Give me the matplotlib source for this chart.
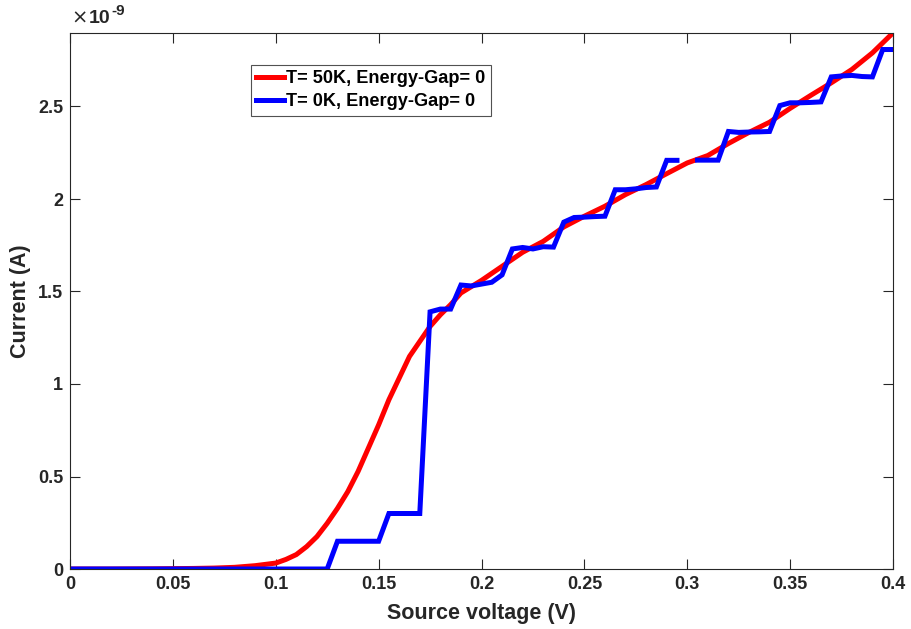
import numpy as np
import matplotlib
matplotlib.use("Agg")
import matplotlib.pyplot as plt
from matplotlib.ticker import FuncFormatter, MultipleLocator

# ---- data (current in units of 1e-9 A) ----
v_red = [0.00, 0.01, 0.02, 0.03, 0.04, 0.05, 0.06, 0.07, 0.08, 0.09,
         0.10, 0.105, 0.11, 0.115, 0.12, 0.125, 0.13, 0.135, 0.14, 0.145,
         0.15, 0.155, 0.16, 0.165, 0.17, 0.175, 0.18, 0.185, 0.19, 0.20,
         0.21, 0.22, 0.23, 0.24, 0.25, 0.26, 0.27, 0.28, 0.29, 0.30,
         0.31, 0.32, 0.33, 0.34, 0.35, 0.36, 0.37, 0.38, 0.39, 0.40]
i_red = [0.0, 0.0, 0.0, 0.0005, 0.001, 0.002, 0.003, 0.005, 0.009, 0.018,
         0.032, 0.052, 0.078, 0.121, 0.175, 0.247, 0.328, 0.418, 0.527, 0.653,
         0.779, 0.915, 1.032, 1.149, 1.230, 1.311, 1.374, 1.429, 1.492, 1.560,
         1.636, 1.712, 1.771, 1.849, 1.907, 1.961, 2.024, 2.078, 2.137, 2.195,
         2.235, 2.300, 2.360, 2.415, 2.490, 2.560, 2.628, 2.700, 2.790, 2.898]

v_blue = [0.000, 0.125, 0.130, 0.135, 0.140, 0.145, 0.150, 0.155, 0.160, 0.165,
          0.170, 0.175, 0.180, 0.185, 0.190, 0.195, 0.200, 0.205, 0.210, 0.215,
          0.220, 0.225, 0.230, 0.235, 0.240, 0.245, 0.250, 0.255, 0.260, 0.265,
          0.270, 0.275, 0.280, 0.285, 0.290, 0.295, 0.300, 0.305, 0.310, 0.315,
          0.320, 0.325, 0.330, 0.335, 0.340, 0.345, 0.350, 0.355, 0.360, 0.365,
          0.370, 0.375, 0.380, 0.385, 0.390, 0.395, 0.400]
i_blue = [0.0, 0.0, 0.15, 0.15, 0.15, 0.15, 0.15, 0.30, 0.30, 0.30,
          0.30, 1.39, 1.405, 1.405, 1.535, 1.53, 1.54, 1.55, 1.59, 1.73,
          1.738, 1.73, 1.742, 1.74, 1.875, 1.90, 1.902, 1.905, 1.907, 2.05,
          2.05, 2.055, 2.062, 2.065, 2.209, 2.209, np.nan, 2.21, 2.21, 2.21,
          2.365, 2.36, 2.362, 2.363, 2.365, 2.505, 2.52, 2.52, 2.522, 2.525,
          2.66, 2.665, 2.668, 2.662, 2.66, 2.808, 2.808]

label_red = "T= 50K, Energy-Gap= 0"
label_blue = "T= 0K, Energy-Gap= 0"
scale = 1e-9

plt.rcParams['font.family'] = ['Liberation Sans', 'DejaVu Sans']
plt.rcParams['font.weight'] = 'bold'
plt.rcParams['axes.labelweight'] = 'bold'

fig = plt.figure(figsize=(9.11, 6.29), dpi=100)
ax = fig.add_axes([70/911, 1 - 569/629, (893 - 70)/911, (569 - 32.5)/629])

ax.plot(v_red, np.array(i_red) * scale, color='#ff0000', lw=3.6, label=label_red,
        solid_joinstyle='round')
ax.plot(v_blue, np.array(i_blue, dtype=float) * scale, color='#0000ff', lw=3.6,
        label=label_blue, solid_joinstyle='miter')

ax.set_xlim(0, 0.4)
ax.set_ylim(0, 2.9e-9)
ax.xaxis.set_major_locator(MultipleLocator(0.05))
ax.yaxis.set_major_locator(MultipleLocator(0.5e-9))
ax.xaxis.set_major_formatter(FuncFormatter(lambda v, p: f"{v:g}"))
ax.yaxis.set_major_formatter(FuncFormatter(lambda v, p: f"{v/scale:g}"))
ax.xaxis.offsetText.set_visible(False)
ax.yaxis.offsetText.set_visible(False)

ax.tick_params(direction='in', length=7, width=0.8, top=True, right=True,
               labelsize=13, colors='#262626', pad=5)
for lab in ax.get_xticklabels() + ax.get_yticklabels():
    lab.set_fontweight('bold')
for s in ax.spines.values():
    s.set_color('#262626')
    s.set_linewidth(0.8)

ax.set_xlabel("Source voltage (V)", fontsize=15.5, fontweight='bold', color='#262626', labelpad=7)
ax.set_ylabel("Current (A)", fontsize=15.5, fontweight='bold', color='#262626', labelpad=5)

# exponent label "x10^-9"
t0 = ax.text(0.002, 1.010, "\u00d7", transform=ax.transAxes, family='DejaVu Sans',
             fontsize=14, fontweight='normal', color='#262626', ha='left', va='bottom')
t1 = ax.annotate("10", xy=(1.0, 0.0), xycoords=t0, xytext=(0.5, 0), textcoords='offset points',
                 fontsize=14, fontweight='bold', color='#262626', ha='left', va='bottom')
ax.annotate("-9", xy=(1.0, 0.55), xycoords=t1, xytext=(0.5, 0), textcoords='offset points',
            fontsize=11, fontweight='bold', color='#262626', ha='left', va='bottom')

leg = ax.legend(loc='upper left', bbox_to_anchor=(251/911, 1 - 65/629),
                bbox_transform=fig.transFigure, fontsize=13.1, frameon=True,
                fancybox=False, edgecolor='#262626', handlelength=1.5,
                handletextpad=0.12, borderpad=0.3, labelspacing=0.33,
                borderaxespad=0)
leg.get_frame().set_linewidth(0.8)
for t in leg.get_texts():
    t.set_fontweight('bold')

fig.savefig("out.png", dpi=100, facecolor='white')
